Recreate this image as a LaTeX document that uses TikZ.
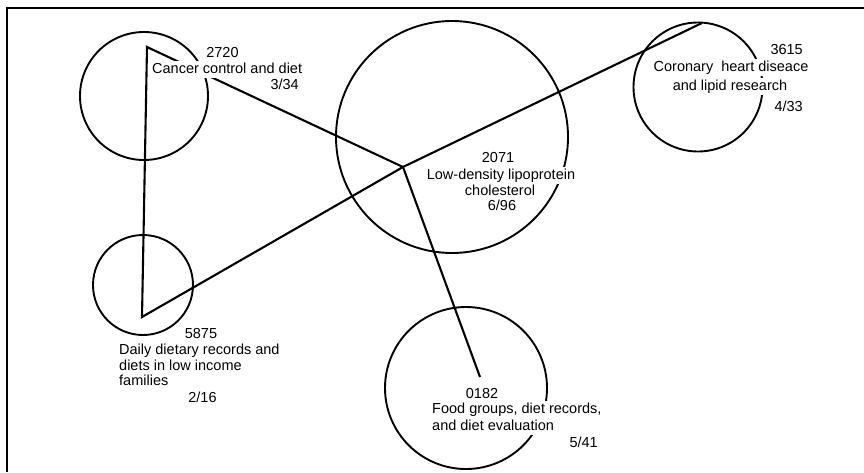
\documentclass[tikz,border=0pt]{standalone}
\usepackage{fontspec}
\setmainfont{Liberation Sans}
\begin{document}
\begin{tikzpicture}[x=1pt,y=-1pt,
  ring/.style={draw, circle, line width=1.9pt, inner sep=0pt, minimum size=#1},
  link/.style={line width=2.1pt, line join=miter},
  lbl/.style={fill=white, inner xsep=2pt, inner ysep=1pt, text height=11pt, text depth=3.5pt,
              font=\fontsize{14.5}{16}\selectfont},
]
\useasboundingbox (0,0) rectangle (864,472);
\fill[white] (0,0) rectangle (864,472);
% frame
\draw[line width=2.2pt] (7,472) -- (7,8) -- (864,8);
% circles
\node[ring=128pt] (c2720) at (144,96) {};
\node[ring=100pt] (c5875) at (143,285) {};
\node[ring=232pt] (c2071) at (452,137) {};
\node[ring=129pt] (c3615) at (698,87) {};
\node[ring=162pt] (c0182) at (466,388) {};
% link points
\coordinate (p2720) at (147,47);
\coordinate (p5875) at (142,317);
\coordinate (p2071) at (403,167);
\coordinate (p3615) at (702,23);
\coordinate (p0182) at (480,377);
% connectors
\draw[link] (p2071) -- (p2720) -- (p5875) -- (p2071) -- (p3615);
\draw[link] (p2071) -- (p0182);
% labels 2720
\node[lbl, anchor=base] (t2720a) at (222.5,57) {2720};
\node[lbl, anchor=base west] (t2720b) at (150,73) {Cancer control and diet};
\node[lbl, anchor=base east] (t2720c) at (301,89) {3/34};
% labels 5875
\node[lbl, anchor=base] (t5875a) at (201,338) {5875};
\node[lbl, anchor=base west] (t5875b) at (117,354) {Daily dietary records and};
\node[lbl, anchor=base west] (t5875c) at (117,370) {diets in low income};
\node[lbl, anchor=base west] (t5875d) at (117,385) {families};
\node[lbl, anchor=base] (t5875e) at (202.5,402) {2/16};
% labels 2071
\node[lbl, anchor=base] (t2071a) at (498,162) {2071};
\node[lbl, anchor=base] (t2071b) at (501,179) {Low-density lipoprotein};
\node[lbl, anchor=base] (t2071c) at (500,195) {cholesterol};
\node[lbl, anchor=base] (t2071d) at (502,210) {6/96};
% labels 3615
\node[lbl, anchor=base east] (t3615a) at (805,54) {3615};
\node[lbl, anchor=base] (t3615b) at (731,71) {Coronary\hspace{4pt} heart diseace};
\node[lbl, anchor=base] (t3615c) at (730,90) {and lipid research};
\node[lbl, anchor=base east] (t3615d) at (805,111) {4/33};
% labels 0182
\node[lbl, anchor=base] (t0182a) at (482,398) {0182};
\node[lbl, anchor=base west] (t0182b) at (430,413) {Food groups, diet records,};
\node[lbl, anchor=base west] (t0182c) at (430,430) {and diet evaluation};
\node[lbl, anchor=base east] (t0182d) at (600,447) {5/41};
\end{tikzpicture}
\end{document}
